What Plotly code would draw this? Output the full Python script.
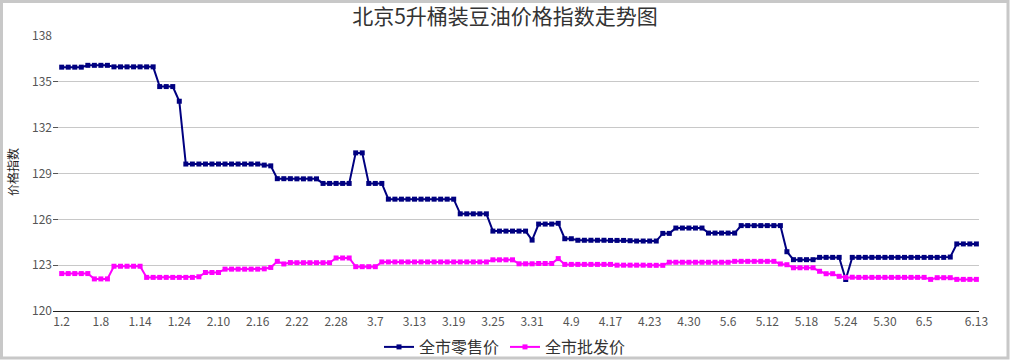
import plotly.graph_objects as go

# ---- data ----
dates = [
    "1.2", "1.3", "1.4", "1.5", "1.6", "1.7",
    "1.8", "1.9", "1.10", "1.11", "1.12", "1.13",
    "1.14", "1.15", "1.16", "1.17", "1.18", "1.19",
    "1.24", "1.25", "1.26", "2.7", "2.8", "2.9",
    "2.10", "2.11", "2.12", "2.13", "2.14", "2.15",
    "2.16", "2.17", "2.18", "2.19", "2.20", "2.21",
    "2.22", "2.23", "2.24", "2.25", "2.26", "2.27",
    "2.28", "3.1", "3.2", "3.3", "3.5", "3.6",
    "3.7", "3.8", "3.9", "3.10", "3.11", "3.12",
    "3.13", "3.14", "3.15", "3.16", "3.17", "3.18",
    "3.19", "3.20", "3.21", "3.22", "3.23", "3.24",
    "3.25", "3.26", "3.27", "3.28", "3.29", "3.30",
    "3.31", "4.1", "4.5", "4.6", "4.7", "4.8",
    "4.9", "4.10", "4.11", "4.12", "4.14", "4.16",
    "4.17", "4.18", "4.19", "4.20", "4.21", "4.22",
    "4.23", "4.24", "4.25", "4.26", "4.27", "4.28",
    "4.30", "5.1", "5.2", "5.3", "5.4", "5.5",
    "5.6", "5.7", "5.8", "5.9", "5.10", "5.11",
    "5.12", "5.13", "5.14", "5.15", "5.16", "5.17",
    "5.18", "5.19", "5.20", "5.21", "5.22", "5.23",
    "5.24", "5.25", "5.26", "5.27", "5.28", "5.29",
    "5.30", "5.31", "6.1", "6.2", "6.3", "6.4",
    "6.5", "6.6", "6.7", "6.8", "6.9", "6.10", "6.11", "6.12",
    "6.13",
]

retail = [
    135.96, 135.96, 135.96, 135.96, 136.08, 136.08,
    136.08, 136.08, 135.98, 135.98, 135.98, 135.98,
    135.98, 135.98, 135.98, 134.69, 134.69, 134.69,
    133.73, 129.62, 129.62, 129.62, 129.62, 129.62,
    129.62, 129.62, 129.62, 129.62, 129.62, 129.62,
    129.62, 129.55, 129.50, 128.66, 128.66, 128.66,
    128.65, 128.65, 128.65, 128.65, 128.35, 128.35,
    128.35, 128.35, 128.35, 130.35, 130.35, 128.35,
    128.35, 128.35, 127.32, 127.32, 127.32, 127.32,
    127.32, 127.32, 127.32, 127.32, 127.32, 127.32,
    127.32, 126.36, 126.36, 126.36, 126.36, 126.36,
    125.23, 125.23, 125.23, 125.23, 125.23, 125.23,
    124.64, 125.69, 125.69, 125.69, 125.74, 124.73,
    124.73, 124.63, 124.63, 124.63, 124.63, 124.63,
    124.62, 124.62, 124.62, 124.60, 124.58, 124.58,
    124.58, 124.58, 125.08, 125.08, 125.43, 125.43,
    125.43, 125.43, 125.43, 125.10, 125.10, 125.10,
    125.10, 125.10, 125.59, 125.59, 125.59, 125.59,
    125.59, 125.59, 125.59, 123.88, 123.36, 123.36,
    123.36, 123.36, 123.51, 123.51, 123.51, 123.51,
    122.06, 123.51, 123.51, 123.51, 123.51, 123.51,
    123.51, 123.51, 123.51, 123.51, 123.51, 123.51,
    123.51, 123.51, 123.51, 123.51, 123.53, 124.39,
    124.39, 124.39, 124.39,
]

wholesale = [
    122.45, 122.45, 122.45, 122.45, 122.45, 122.10,
    122.10, 122.10, 122.93, 122.93, 122.93, 122.93,
    122.93, 122.20, 122.20, 122.20, 122.20, 122.20,
    122.20, 122.20, 122.20, 122.24, 122.52, 122.52,
    122.52, 122.74, 122.74, 122.74, 122.74, 122.74,
    122.74, 122.76, 122.85, 123.25, 123.08, 123.17,
    123.16, 123.16, 123.16, 123.16, 123.16, 123.16,
    123.47, 123.47, 123.47, 122.90, 122.90, 122.90,
    122.90, 123.21, 123.21, 123.21, 123.21, 123.21,
    123.21, 123.21, 123.21, 123.21, 123.21, 123.21,
    123.21, 123.21, 123.21, 123.21, 123.21, 123.21,
    123.35, 123.35, 123.35, 123.35, 123.09, 123.09,
    123.09, 123.11, 123.11, 123.11, 123.43, 123.05,
    123.05, 123.05, 123.05, 123.05, 123.05, 123.05,
    123.05, 123.00, 123.00, 123.00, 123.00, 123.00,
    122.99, 122.99, 122.99, 123.19, 123.19, 123.19,
    123.19, 123.19, 123.19, 123.19, 123.19, 123.19,
    123.19, 123.25, 123.25, 123.25, 123.25, 123.25,
    123.25, 123.25, 123.08, 123.03, 122.83, 122.83,
    122.83, 122.83, 122.60, 122.44, 122.44, 122.27,
    122.20, 122.21, 122.20, 122.20, 122.20, 122.20,
    122.20, 122.20, 122.20, 122.20, 122.20, 122.20,
    122.20, 122.07, 122.18, 122.18, 122.18, 122.07,
    122.07, 122.07, 122.07,
]

series_names = ["全市零售价", "全市批发价"]
y_ticks = [120, 123, 126, 129, 132, 135, 138]
title_text = "北京5升桶装豆油价格指数走势图"
y_title = "价格指数"

# ---- layout geometry ----
W, H = 1010, 360
ML, MR, MT, MB = 53, 31, 36, 49
PW, PH = W - ML - MR, H - MT - MB

idx = list(range(len(dates)))
label_idx = list(range(0, len(dates) - 8, 6)) + [len(dates) - 1]
tick_idx = [i - 3 for i in label_idx if i > 0]
xr = [-1.33, len(dates) - 1 + 0.4]

font_family = "Microsoft YaHei, Noto Sans CJK SC, sans-serif"

fig = go.Figure()
fig.add_trace(go.Scatter(
    x=idx, y=retail, name=series_names[0], mode="lines+markers",
    line=dict(color="#000080", width=2),
    marker=dict(symbol="square", size=5, color="#000080"),
))
fig.add_trace(go.Scatter(
    x=idx, y=wholesale, name=series_names[1], mode="lines+markers",
    line=dict(color="#FF00FF", width=2),
    marker=dict(symbol="square", size=5, color="#FF00FF"),
))


def px2paper_x(px):
    return (px - ML) / PW


def px2paper_y(py):
    return (H - MB - py) / PH


fig.update_layout(
    width=W, height=H,
    margin=dict(l=ML, r=MR, t=MT, b=MB, autoexpand=False),
    paper_bgcolor="white", plot_bgcolor="white",
    font=dict(family=font_family, color="#444", size=12),
    title=dict(text=title_text, x=0.5, xanchor="center", y=1 - 17 / H,
               yanchor="middle", font=dict(size=21, color="#333")),
    xaxis=dict(
        range=xr, tickmode="array", tickvals=label_idx,
        ticktext=[dates[i] for i in label_idx],
        ticks="", showgrid=False, zeroline=False, automargin=False,
        showline=True, linecolor="#222", linewidth=1,
        tickfont=dict(size=12, color="#555"),
    ),
    xaxis2=dict(
        overlaying="x", anchor="y", side="bottom", range=xr,
        tickmode="array", tickvals=tick_idx, ticks="outside",
        ticklen=5, tickcolor="#222", tickwidth=1, automargin=False,
        showticklabels=False, showgrid=False, zeroline=False,
        showline=False,
    ),
    yaxis=dict(
        range=[120, 138], tickmode="array", tickvals=y_ticks,
        showgrid=True, gridcolor="#c8c8c8", gridwidth=1,
        zeroline=False, showline=False, automargin=False,
        ticks="inside", ticklen=5, tickcolor="#555",
        tickfont=dict(size=12, color="#555"),
    ),
    legend=dict(
        orientation="h", xref="container", x=0.5,
        xanchor="center",
        yref="container", y=1 - 347 / H, yanchor="middle",
        font=dict(size=16, color="#333"),
        bgcolor="rgba(0,0,0,0)", itemwidth=30, tracegroupgap=0,
        entrywidth=81, entrywidthmode="pixels",
    ),
    showlegend=True,
    annotations=[dict(
        text=y_title, xref="paper", yref="paper",
        x=px2paper_x(12), y=px2paper_y(172), textangle=-90,
        showarrow=False, font=dict(size=12, color="#222"),
        xanchor="center", yanchor="middle",
    )],
    shapes=[dict(
        type="rect", xref="paper", yref="paper",
        x0=px2paper_x(1.5), x1=px2paper_x(W - 2),
        y0=px2paper_y(H - 2), y1=px2paper_y(1.5),
        line=dict(color="#c8c8c8", width=3), fillcolor="rgba(0,0,0,0)",
        layer="above",
    )],
)

fig.write_html("out.html",
               config={"displayModeBar": False},
               post_script="document.body.style.margin='0';"
                           "document.body.style.overflow='hidden';")
